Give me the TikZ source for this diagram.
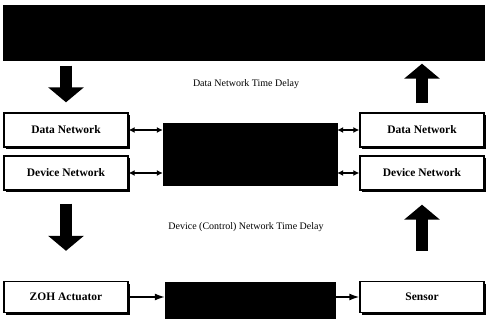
\documentclass[tikz,border=0pt]{standalone}
\usepackage{fontspec}
\setmainfont{Liberation Serif}
\usetikzlibrary{arrows.meta,shadows}
\begin{document}
\begin{tikzpicture}[x=1pt,y=-1pt,
  box/.style={draw, line width=1.4pt, fill=white, minimum width=124pt,
    minimum height=34pt, inner sep=0pt,
    font=\bfseries\fontsize{11.5}{13}\selectfont,
    drop shadow={shadow xshift=2.2pt, shadow yshift=-2.2pt, opacity=1, fill=black}},
  blk/.style={fill=black, draw=black, inner sep=0pt},
  lab/.style={font=\fontsize{10}{12}\selectfont, inner sep=1pt},
  big/.style={line width=12pt, -{Triangle[width=35pt,length=15pt]}},
  dbl/.style={line width=1.3pt, {Latex[length=6pt,width=6pt]}-{Latex[length=6pt,width=6pt]}},
  flow/.style={line width=1.4pt, -{Latex[length=10pt,width=7pt]}}
]
\useasboundingbox (0,0) rectangle (487,324);

% top block
\node[blk, minimum width=481pt, minimum height=55pt] (topbar) at (243.5,33) {};

% network boxes
\node[box] (datL) at (66,130) {Data Network};
\node[box] (devL) at (66,173) {Device Network};
\node[box] (datR) at (422,130) {Data Network};
\node[box] (devR) at (422,173) {Device Network};
\node[blk, minimum width=174pt, minimum height=62pt] (mid) at (250,154) {};

% delay labels
\node[lab] (lab1) at (246,84) {Data Network Time Delay};
\node[lab] (lab2) at (246,227) {Device (Control) Network Time Delay};

% plant row
\node[box, minimum height=31pt] (zoh) at (66,297) {ZOH Actuator};
\node[blk, minimum width=170pt, minimum height=36pt] (blk2) at (250,300) {};
\node[box, minimum height=31pt] (sensor) at (422,297) {Sensor};

% thick vertical arrows
\draw[big, shorten <=5pt, shorten >=10pt] (topbar.south -| datL.north) -- (datL.north);
\draw[big, shorten <=9pt, shorten >=3pt] (datR.north) -- (datR.north |- topbar.south);
\draw[big, shorten <=13pt, shorten >=30pt] (devL.south) -- (zoh.north);
\draw[big, shorten <=30pt, shorten >=14pt] (sensor.north) -- (devR.south);

% links to the middle block
\draw[dbl] (datL.east) -- (datL.east -| mid.west);
\draw[dbl] (devL.east) -- (devL.east -| mid.west);
\draw[dbl] (datR.west -| mid.east) -- (datR.west);
\draw[dbl] (devR.west -| mid.east) -- (devR.west);

% plant signal flow
\draw[flow] (zoh.east) -- (zoh.east -| blk2.west);
\draw[flow] (sensor.west -| blk2.east) -- (sensor.west);
\end{tikzpicture}
\end{document}
